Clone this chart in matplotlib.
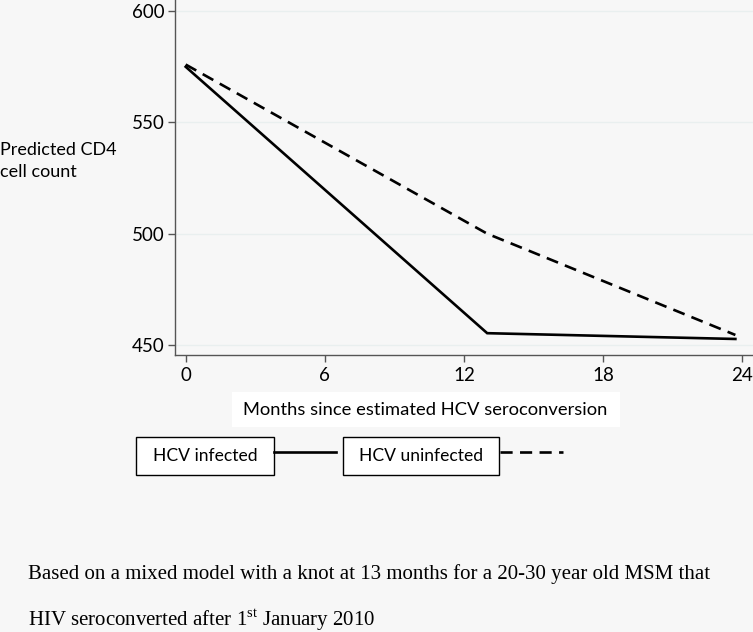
import matplotlib.pyplot as plt
from matplotlib.lines import Line2D
from matplotlib.patches import Rectangle

# values
months = [0, 13, 23.7]
cd4_infected = [575, 455.3, 452.7]
cd4_uninfected = [576, 500, 454.5]
x_ticks = [0, 6, 12, 18, 24]
y_ticks = [450, 500, 550, 600]

W, H = 753, 632
bg = "#f7f7f7"
sans = "Lato"
serif = "Liberation Serif"
plt.rcParams["mathtext.fontset"] = "custom"
plt.rcParams["mathtext.rm"] = serif

fig = plt.figure(figsize=(W / 100, H / 100), dpi=100, facecolor=bg)
ax = fig.add_axes([175 / W, 1 - 355 / H, (W - 175) / W, 355 / H], facecolor=bg)

for yv in y_ticks:
    ax.axhline(yv, color="#e9efef", lw=1, zorder=0)

ax.plot(months, cd4_infected, color="black", lw=1.9, solid_joinstyle="miter")
ax.plot(months, cd4_uninfected, color="black", lw=1.9, dashes=(4.6, 2.8))

ax.set_xlim(-0.46, 24.46)
ax.set_ylim(445.5, 605)
ax.set_xticks(x_ticks)
ax.set_yticks(y_ticks)
ax.tick_params(length=5, width=1, color="#555555", labelsize=13.5)
ax.tick_params(axis="y", pad=2.5)
ax.tick_params(axis="x", pad=3.5)
for lab in ax.get_xticklabels() + ax.get_yticklabels():
    lab.set_family(sans)
for s in ["top", "right"]:
    ax.spines[s].set_visible(False)
for s in ["left", "bottom"]:
    ax.spines[s].set_color("#555555")
    ax.spines[s].set_linewidth(1)

def fx(px):
    return px / W

def fy(py):
    return 1 - py / H

# y-axis title, horizontal at the left
fig.text(fx(0), fy(161), "Predicted CD4\ncell count", family=sans, fontsize=13,
         ha="left", va="center", linespacing=1.5)

# x-axis title in a white box
fig.add_artist(Rectangle((fx(232), fy(427)), fx(388), 35 / H, transform=fig.transFigure,
                         facecolor="white", edgecolor="none"))
fig.text(fx(425), fy(410), "Months since estimated HCV seroconversion", family=sans,
         fontsize=13.2, ha="center", va="center")

# legend: boxed labels followed by line keys
for x0, x1, label in [(136, 274, "HCV infected"), (343, 499, "HCV uninfected")]:
    fig.add_artist(Rectangle((fx(x0), fy(475)), fx(x1 - x0), 38 / H, transform=fig.transFigure,
                             facecolor="white", edgecolor="black", lw=1))
    fig.text(fx((x0 + x1) / 2), fy(456), label, family=sans, fontsize=12.6,
             ha="center", va="center")
fig.add_artist(Line2D([fx(274), fx(336)], [fy(452), fy(452)], transform=fig.transFigure,
                      color="black", lw=1.9))
fig.add_artist(Line2D([fx(500), fx(563)], [fy(452), fy(452)], transform=fig.transFigure,
                      color="black", lw=1.9, dashes=(4.6, 2.8)))

# footnote
fig.text(fx(28), fy(574), "Based on a mixed model with a knot at 13 months for a 20-30 year old MSM that",
         family=serif, fontsize=15, ha="left", va="center")
fig.text(fx(28), fy(620), "HIV seroconverted after 1$^{\\mathrm{st}}$ January 2010",
         family=serif, fontsize=15, ha="left", va="center")

fig.savefig("out.png", dpi=100, facecolor=bg)
